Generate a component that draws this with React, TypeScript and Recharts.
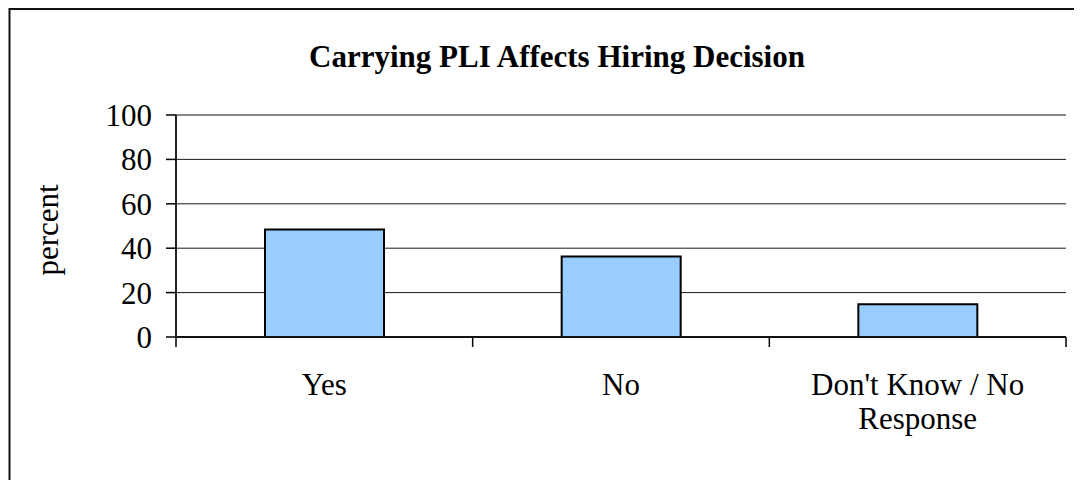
import React from "react";
import { BarChart, Bar, XAxis, YAxis, CartesianGrid, ReferenceLine } from "recharts";

const categories = ["Yes", "No", "Don't Know / No Response"];
const percentValues = [48.4, 36.3, 14.7];
const yTicks = [0, 20, 40, 60, 80, 100];
const titleText = "Carrying PLI Affects Hiring Decision";
const yLabelText = "percent";

const data = categories.map((c, i) => ({ name: c, value: percentValues[i] }));

const FONT = "'Liberation Serif', 'Times New Roman', serif";
const W = 1074;
const H = 472;

function wrapLabel(text: string, maxChars: number): string[] {
  const words = text.split(" ");
  const lines: string[] = [];
  let cur = "";
  for (const w of words) {
    const next = cur ? cur + " " + w : w;
    if (next.length > maxChars && cur) {
      lines.push(cur);
      cur = w;
    } else {
      cur = next;
    }
  }
  if (cur) lines.push(cur);
  return lines;
}

const XTick = (props: any) => {
  const { x, y, payload, index } = props;
  const off = payload.offset || 0;
  const tickSize = 10;
  const lines = wrapLabel(String(payload.value), 16);
  const axisY = y - tickSize;
  return (
    <g>
      <line x1={x - off} x2={x - off} y1={axisY} y2={axisY + tickSize} stroke="#000" strokeWidth={1.5} />
      {index === categories.length - 1 && (
        <line x1={x + off} x2={x + off} y1={axisY} y2={axisY + tickSize} stroke="#000" strokeWidth={1.5} />
      )}
      <text x={x} y={y} textAnchor="middle" fontFamily={FONT} fontSize={31} fill="#000">
        {lines.map((l, i) => (
          <tspan key={i} x={x} dy={i === 0 ? 48 : 34}>
            {l}
          </tspan>
        ))}
      </text>
    </g>
  );
};

export default function App() {
  return (
    <div style={{ position: "relative", width: W, height: H, background: "#fff" }}>
      <style>{"html,body{overflow:hidden;}"}</style>
      <div style={{ position: "absolute", left: 0, top: 0 }}>
        <BarChart
          width={W}
          height={H}
          data={data}
          margin={{ top: 107, right: 16, bottom: 83, left: 68 }}
          barCategoryGap="30%"
        >
          <CartesianGrid horizontal={true} vertical={false} stroke="#000" strokeWidth={1} strokeOpacity={0.9} />
          <XAxis
            dataKey="name"
            type="category"
            height={60}
            tickSize={10}
            tickMargin={0}
            tickLine={false}
            axisLine={{ stroke: "#111", strokeWidth: 2 }}
            tick={<XTick />}
            interval={0}
          />
          <YAxis
            domain={[0, 100]}
            ticks={yTicks}
            width={100}
            tickSize={10}
            tickMargin={14}
            axisLine={{ stroke: "#222", strokeWidth: 2 }}
            tickLine={{ stroke: "#000", strokeWidth: 1.5 }}
            tick={{ fontFamily: FONT, fontSize: 31, fill: "#000" }}
            interval={0}
          />
          <YAxis
            yAxisId="right"
            orientation="right"
            width={0}
            domain={[0, 100]}
            tick={false}
            tickLine={false}
            axisLine={{ stroke: "#888", strokeWidth: 2 }}
          />
          <ReferenceLine y={100} stroke="#888" strokeWidth={2} />
          <Bar dataKey="value" fill="#99CCFF" stroke="#000" strokeWidth={2} isAnimationActive={false} />
        </BarChart>
      </div>
      <svg width={W} height={H} style={{ position: "absolute", left: 0, top: 0, pointerEvents: "none" }}>
        <path d={`M 1.5 ${H + 10} V 1 H ${W + 10}`} fill="none" stroke="#111" strokeWidth={2} />
        <text x={549} y={59} textAnchor="middle" fontFamily={FONT} fontSize={31} fontWeight="bold" fill="#000">
          {titleText}
        </text>
        <text
          transform="translate(50,222) rotate(-90)"
          textAnchor="middle"
          fontFamily={FONT}
          fontSize={31}
          fill="#000"
        >
          {yLabelText}
        </text>
      </svg>
    </div>
  );
}
